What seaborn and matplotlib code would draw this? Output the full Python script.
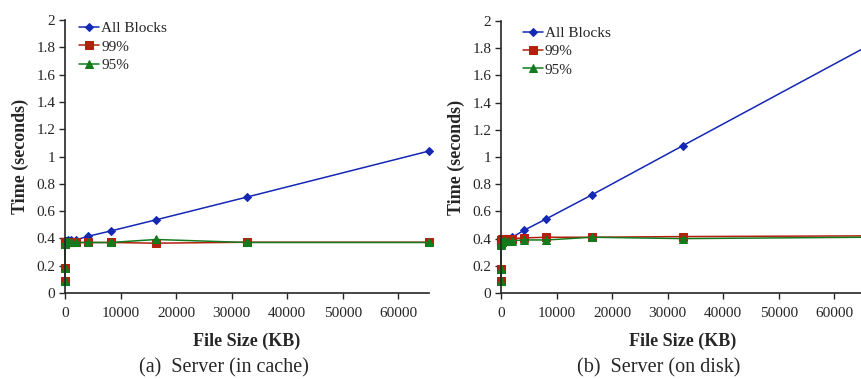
import numpy as np
import pandas as pd
import matplotlib
matplotlib.use("Agg")
import matplotlib.pyplot as plt
import seaborn as sns

# file sizes (KB)
file_size = [1, 2, 4, 8, 16, 32, 64, 128, 256, 512, 1024, 2048, 4096, 8192, 16384, 32768, 65536]

# (a) server, in cache
cache_all = [0.09, 0.18, 0.36, 0.36, 0.37, 0.37, 0.38, 0.38, 0.38, 0.385, 0.39, 0.39, 0.415, 0.454, 0.536, 0.703, 1.04]
cache_99 = [0.09, 0.18, 0.36, 0.365, 0.37, 0.37, 0.37, 0.37, 0.37, 0.37, 0.37, 0.37, 0.37, 0.37, 0.365, 0.372, 0.372]
cache_95 = [0.09, 0.18, 0.36, 0.365, 0.37, 0.37, 0.37, 0.37, 0.37, 0.37, 0.37, 0.37, 0.37, 0.37, 0.392, 0.37, 0.37]

# (b) server, on disk
disk_all = [0.09, 0.18, 0.36, 0.37, 0.375, 0.38, 0.385, 0.385, 0.39, 0.39, 0.395, 0.41, 0.46, 0.546, 0.722, 1.084, 1.805]
disk_99 = [0.09, 0.18, 0.37, 0.38, 0.385, 0.39, 0.39, 0.395, 0.395, 0.395, 0.4, 0.4, 0.405, 0.41, 0.41, 0.415, 0.42]
disk_95 = [0.09, 0.18, 0.35, 0.36, 0.365, 0.37, 0.37, 0.375, 0.375, 0.38, 0.38, 0.385, 0.39, 0.39, 0.41, 0.40, 0.41]

series_names = ["All Blocks", "99%", "95%"]
colors = ["#1428b4", "#b4200e", "#137a1e"]
markers = ["D", "s", "^"]
marker_sizes = [4, 6, 6]

y_ticks = [0, 0.2, 0.4, 0.6, 0.8, 1.0, 1.2, 1.4, 1.6, 1.8, 2.0]
y_tick_labels = ["0", "0.2", "0.4", "0.6", "0.8", "1", "1.2", "1.4", "1.6", "1.8", "2"]
x_ticks = [0, 10000, 20000, 30000, 40000, 50000, 60000]
captions = ["(a)  Server (in cache)", "(b)  Server (on disk)"]

sns.set_style("ticks")
plt.rcParams["font.family"] = ["Liberation Serif", "DejaVu Serif"]

fig = plt.figure(figsize=(8.62, 3.79), dpi=100)
ax_a = fig.add_axes([65 / 862, 86 / 379, 364 / 862, 273 / 379])
ax_b = fig.add_axes([501 / 862, 86 / 379, 364 / 862, 272 / 379])

panels = [
    (ax_a, [cache_all, cache_99, cache_95], (0.022, 1.016)),
    (ax_b, [disk_all, disk_99, disk_95], (0.043, 1.003)),
]

for ax, values, legend_pos in panels:
    for name, vals, c, m, ms in zip(series_names, values, colors, markers, marker_sizes):
        df = pd.DataFrame({"size": file_size, "time": vals})
        sns.lineplot(data=df, x="size", y="time", ax=ax, color=c, marker=m,
                     markersize=ms, markeredgecolor=c, linewidth=1.1,
                     label=name, clip_on=False)
    ax.set_xlim(0, 65536)
    ax.set_ylim(0, 2)
    ax.set_yticks(y_ticks)
    ax.set_yticklabels(y_tick_labels)
    ax.set_xticks(x_ticks)
    ax.set_xticklabels([str(t) for t in x_ticks])
    ax.tick_params(labelsize=11, length=4, width=1, direction="out")
    ax.tick_params(axis="x", pad=6)
    ax.tick_params(axis="y", pad=3)
    ax.spines["top"].set_visible(False)
    ax.spines["right"].set_visible(False)
    ax.spines["left"].set_linewidth(1.2)
    ax.spines["bottom"].set_linewidth(1.2)
    ax.set_xlabel("File Size (KB)", fontsize=13, fontweight="bold", labelpad=9)
    ax.set_ylabel("Time (seconds)", fontsize=13, fontweight="bold", labelpad=5)
    ax.legend(loc="upper left", bbox_to_anchor=legend_pos, frameon=False,
              fontsize=11, handlelength=1.3, handletextpad=0.15, labelspacing=0.3,
              borderaxespad=0.0)
    ax.grid(False)

fig.text(224 / 862, 1.5 / 379, captions[0], ha="center", va="bottom", fontsize=14.5)
fig.text(659 / 862, 1.5 / 379, captions[1], ha="center", va="bottom", fontsize=14.5)

fig.savefig("out.png", dpi=100)
